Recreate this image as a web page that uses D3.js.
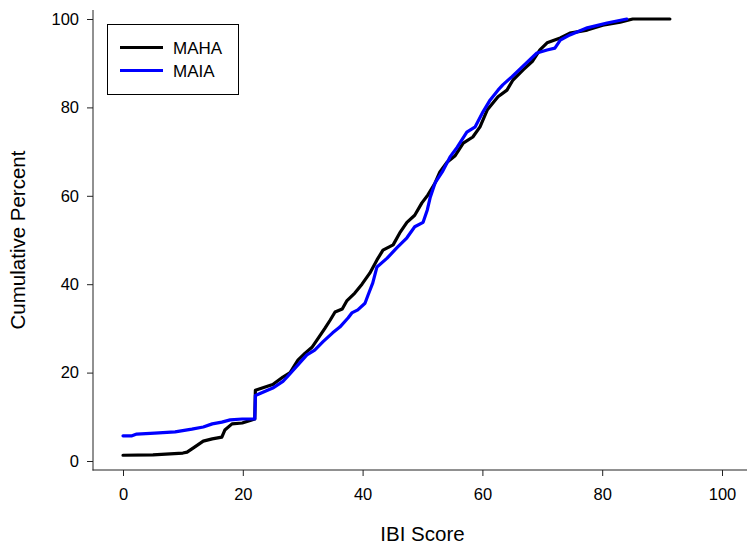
<!DOCTYPE html>
<html>
<head>
<meta charset="utf-8">
<script src="https://cdn.jsdelivr.net/npm/d3@7"></script>
<style>
  html, body { margin: 0; padding: 0; background: #fff; }
  svg { display: block; font-family: "Liberation Sans", Arial, sans-serif; }
</style>
</head>
<body>
<svg id="chart" width="747" height="544"></svg>
<script>
// ---- data ----
const seriesNames = ["MAHA", "MAIA"];
const seriesColors = ["#000000", "#0000ff"];

const mahaX = [0, 5, 10, 10.7, 12, 13.4, 14.9, 16.5, 17, 18.2, 19.9, 21.5, 22, 22.1, 25, 26.7, 27.9, 29.2, 30.4, 31.6, 32.6, 33.7, 34.6, 35.4, 36.6, 37.4, 38.7, 39.9, 41.2, 42.4, 43.4, 45.1, 46.2, 47.4, 48.7, 49.9, 50.9, 52.1, 52.9, 54.1, 55.4, 56.8, 58.4, 59.6, 60.8, 62.6, 64.1, 65.1, 66.8, 68.4, 69.6, 70.8, 73, 74.6, 77.5, 80.1, 83, 85.1, 91.3];
const mahaY = [1.3, 1.4, 1.8, 2.0, 3.2, 4.5, 5.0, 5.4, 7.0, 8.4, 8.6, 9.3, 9.5, 16.0, 17.3, 19.0, 20.0, 22.8, 24.4, 25.8, 27.8, 30.0, 31.9, 33.7, 34.4, 36.3, 38.0, 40.0, 42.5, 45.5, 47.7, 48.9, 51.6, 54.0, 55.6, 58.4, 60.2, 62.9, 65.4, 67.6, 69.0, 71.9, 73.3, 75.6, 79.4, 82.4, 83.9, 86.2, 88.5, 90.5, 93.0, 94.6, 95.7, 96.8, 97.5, 98.6, 99.3, 100, 100];

const maiaX = [0, 1.5, 2.3, 5.3, 8.7, 11.5, 13.4, 14.9, 16.5, 17.9, 19.9, 21.5, 22, 22.1, 25, 26.7, 27.4, 29.5, 30.7, 32, 33.4, 35, 36.2, 37.6, 38.2, 39.2, 40.4, 40.9, 41.7, 42.4, 44.1, 45.7, 47.4, 48.7, 50.1, 50.8, 51.3, 52.1, 53.3, 54.6, 55.8, 57.4, 58.8, 60.1, 61.3, 62.6, 63.4, 64.9, 66.3, 69.1, 70.8, 72.1, 73, 74.6, 77.5, 80.8, 84.1];
const maiaY = [5.7, 5.7, 6.1, 6.3, 6.6, 7.2, 7.7, 8.4, 8.8, 9.3, 9.5, 9.5, 9.5, 14.8, 16.5, 18.0, 19.0, 22.2, 24.0, 25.1, 27.0, 29.0, 30.3, 32.4, 33.5, 34.2, 35.7, 37.5, 40.3, 43.9, 45.9, 48.2, 50.5, 53.0, 54.0, 56.8, 59.7, 62.9, 65.4, 68.8, 71.0, 74.4, 75.6, 79.0, 81.7, 83.9, 85.1, 86.9, 88.7, 92.3, 93.0, 93.4, 95.2, 96.4, 98.0, 99.1, 100];

const xTicks = [0, 20, 40, 60, 80, 100];
const yTicks = [0, 20, 40, 60, 80, 100];
const xLabel = "IBI Score";
const yLabel = "Cumulative Percent";

// ---- drawing ----
const svg = d3.select("#chart");
const x = d3.scaleLinear().domain([0, 100]).range([123, 722]);
const y = d3.scaleLinear().domain([0, 100]).range([461, 19]);

const axisColor = "#222";
// y axis
const yAxis = svg.append("g").attr("transform", "translate(93,0)")
  .call(d3.axisLeft(y).tickValues(yTicks).tickSize(6).tickPadding(8).tickSizeOuter(0));
yAxis.select(".domain").remove();
svg.append("line").attr("x1", 93).attr("x2", 93).attr("y1", 10).attr("y2", 470.5)
  .attr("stroke", axisColor).attr("stroke-width", 1);
// x axis
const xAxis = svg.append("g").attr("transform", "translate(0,470)")
  .call(d3.axisBottom(x).tickValues(xTicks).tickSize(6).tickPadding(12).tickSizeOuter(0));
xAxis.select(".domain").remove();
svg.append("line").attr("x1", 92.5).attr("x2", 747).attr("y1", 470).attr("y2", 470)
  .attr("stroke", axisColor).attr("stroke-width", 1);

[xAxis, yAxis].forEach(g => {
  g.selectAll("line").attr("stroke", axisColor);
  g.selectAll("text").attr("font-size", 16.5).attr("fill", "#000")
    .attr("font-family", "Liberation Sans, Arial, sans-serif");
});

// axis labels
svg.append("text").attr("x", x(50)).attr("y", 541)
  .attr("text-anchor", "middle").attr("font-size", 20.5).text(xLabel);
svg.append("text").attr("transform", "translate(25," + y(50) + ") rotate(-90)")
  .attr("text-anchor", "middle").attr("font-size", 20.5).text(yLabel);

// lines
const series = [
  mahaX.map((v, i) => [v, mahaY[i]]),
  maiaX.map((v, i) => [v, maiaY[i]])
];
const line = d3.line().x(d => x(d[0])).y(d => y(d[1]));
series.forEach((s, i) => {
  svg.append("path").datum(s).attr("d", line)
    .attr("fill", "none").attr("stroke", seriesColors[i])
    .attr("stroke-width", 3.2).attr("stroke-linejoin", "round").attr("stroke-linecap", "round");
});

// legend
const lg = svg.append("g");
lg.append("rect").attr("x", 107.5).attr("y", 24.5).attr("width", 131).attr("height", 70)
  .attr("fill", "#fff").attr("stroke", "#000").attr("stroke-width", 1);
seriesNames.forEach((n, i) => {
  const yy = 47.5 + i * 23;
  lg.append("line").attr("x1", 120).attr("x2", 163).attr("y1", yy).attr("y2", yy)
    .attr("stroke", seriesColors[i]).attr("stroke-width", 3.2);
  lg.append("text").attr("x", 173).attr("y", yy + 6).attr("font-size", 17).text(n);
});
</script>
</body>
</html>
